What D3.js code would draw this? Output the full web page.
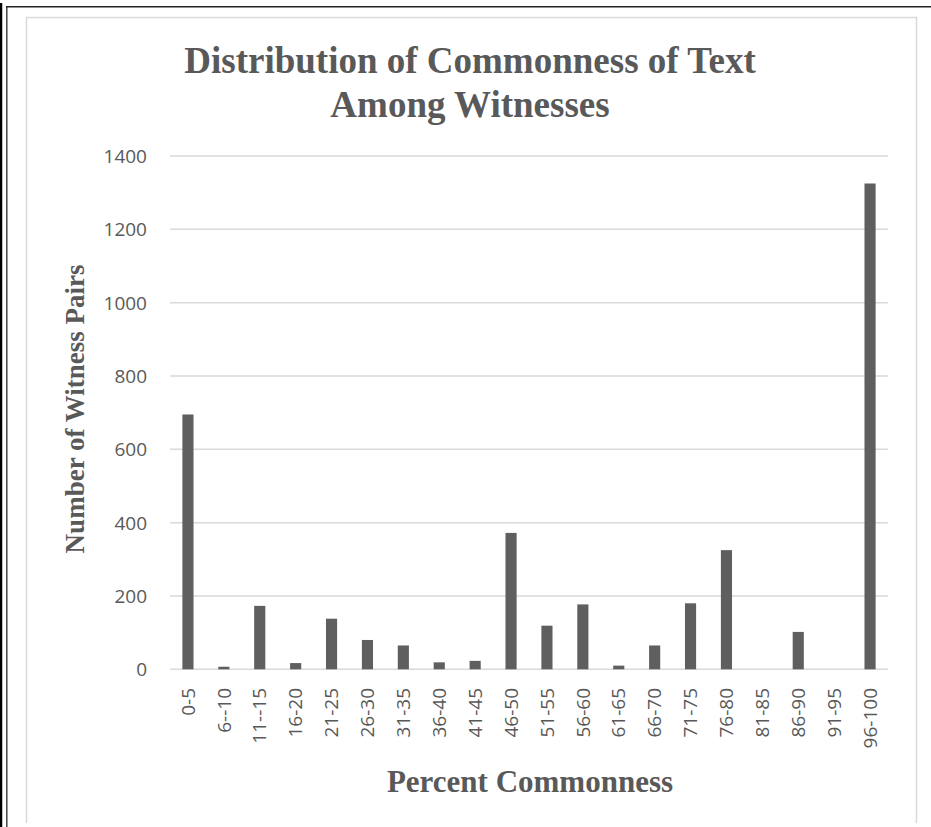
<!DOCTYPE html>
<html><head><meta charset="utf-8">
<script src="https://cdn.jsdelivr.net/npm/d3@7/dist/d3.min.js"></script>
<style>body{margin:0;background:#fff;} svg{display:block;}</style>
</head><body>
<svg id="chart" width="931" height="827"></svg>
<script>
const categories = ["0-5","6--10","11--15","16-20","21-25","26-30","31-35","36-40","41-45","46-50","51-55","56-60","61-65","66-70","71-75","76-80","81-85","86-90","91-95","96-100"];
const values = [695,7,173,17,138,80,65,19,23,372,119,177,10,65,180,325,0,102,0,1325];
const yTicks = [0,200,400,600,800,1000,1200,1400];
const titleLines = ["Distribution of Commonness of Text","Among Witnesses"];
const xTitle = "Percent Commonness";
const yTitle = "Number of Witness Pairs";

const svg = d3.select("#chart");
const grey = "#595959";
// frame lines
svg.append("line").attr("x1",1).attr("x2",1).attr("y1",3).attr("y2",827).attr("stroke","#000").attr("stroke-width",2.5);
svg.append("line").attr("x1",6.8).attr("x2",6.8).attr("y1",6).attr("y2",827).attr("stroke","#444").attr("stroke-width",1.5);
svg.append("line").attr("x1",6).attr("x2",931).attr("y1",6.8).attr("y2",6.8).attr("stroke","#222").attr("stroke-width",1.5);
svg.append("path").attr("d","M26.5,823 V17.5 H916.5 V823").attr("fill","none").attr("stroke","#d9d9d9").attr("stroke-width",1.5);

const x = d3.scaleBand().domain(categories).range([170,888]).paddingInner(0.69).paddingOuter(0.345);
const y = d3.scaleLinear().domain([0,1400]).range([669.3,156]);

// gridlines
svg.append("g").selectAll("line").data(yTicks).join("line")
  .attr("x1",170).attr("x2",888).attr("y1",d=>y(d)).attr("y2",d=>y(d))
  .attr("stroke","#d9d9d9").attr("stroke-width",1.5);

// y labels
const yAxis = d3.axisLeft(y).tickValues(yTicks).tickFormat(d3.format("d")).tickSize(0).tickPadding(0);
const gy = svg.append("g").attr("transform","translate(147,0)").call(yAxis);
gy.select(".domain").remove();
gy.selectAll("text").attr("font-family","'Open Sans',sans-serif").attr("font-size",19).attr("fill",grey).attr("dy","0.35em");

// bars
svg.append("g").selectAll("rect").data(values).join("rect")
  .attr("x",(d,i)=>x(categories[i])).attr("width",x.bandwidth())
  .attr("y",d=>y(d)).attr("height",d=>y(0)-y(d)).attr("fill","#5f5f5f");

// x labels
const xAxis = d3.axisBottom(x).tickSize(0).tickPadding(0);
const gx = svg.append("g").attr("transform","translate(0,688)").call(xAxis);
gx.select(".domain").remove();
gx.selectAll("text").attr("font-family","'Open Sans',sans-serif").attr("font-size",19).attr("fill",grey)
  .attr("text-anchor","end").attr("transform","rotate(-90)").attr("x",0).attr("y",0).attr("dy","0.35em");

// titles
svg.append("g").selectAll("text").data(titleLines).join("text")
  .attr("x",470).attr("y",(d,i)=>73+i*44).attr("text-anchor","middle")
  .attr("font-family","'Liberation Serif','Times New Roman',serif").attr("font-weight","bold")
  .attr("font-size",37).attr("fill",grey).text(d=>d);

svg.append("text").attr("x",530).attr("y",792).attr("text-anchor","middle")
  .attr("font-family","'Liberation Serif','Times New Roman',serif").attr("font-weight","bold")
  .attr("font-size",31).attr("fill",grey).text(xTitle);

svg.append("text").attr("transform","translate(84,409) rotate(-90)").attr("text-anchor","middle")
  .attr("font-family","'Liberation Serif','Times New Roman',serif").attr("font-weight","bold")
  .attr("font-size",27).attr("fill",grey).text(yTitle);
</script>
</body></html>
